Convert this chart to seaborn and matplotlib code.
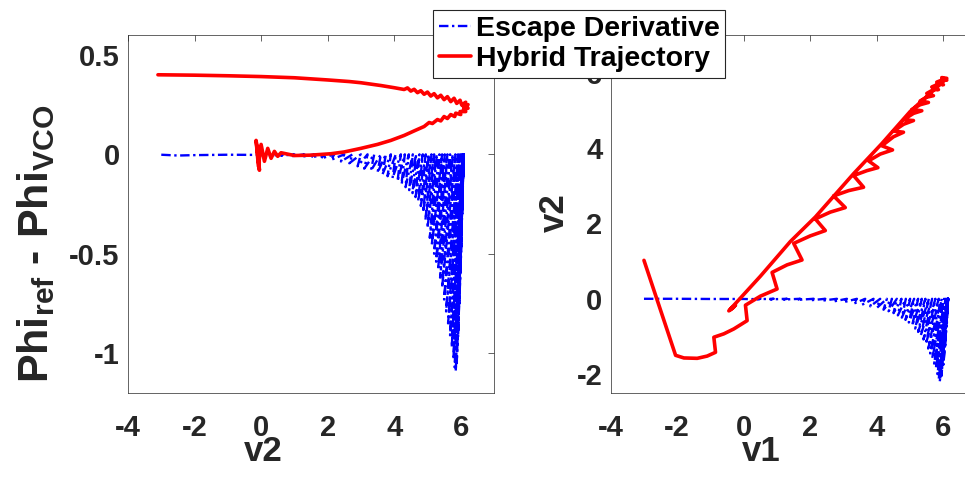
import matplotlib
matplotlib.use("Agg")
import matplotlib.pyplot as plt
import seaborn as sns
import pandas as pd
from matplotlib.lines import Line2D

# ---------------- data ----------------
series_names = ["Escape Derivative", "Hybrid Trajectory"]
x_ticks = [-4, -2, 0, 2, 4, 6]
left_y_ticks = [-1, -0.5, 0, 0.5]
left_y_ticklabels = ["-1", "-0.5", "0", "0.5"]
right_y_ticks = [-2, 0, 2, 4, 6]

# Left panel, Escape Derivative: flat start, then oscillation strokes (top at 0 -> bottom)
esc_left_flat_v2 = [-3.0, -2.5, -2.0, -1.0, 0.0, 0.4]
esc_left_flat_phi = [-0.002, -0.006, -0.004, -0.002, -0.003, -0.005]
esc_left_top_v2 = [0.7, 1.0, 1.3, 1.6, 1.9, 2.2, 2.5, 2.75, 3.0, 3.2,
                   3.4, 3.6, 3.75, 3.9, 4.05, 4.2, 4.32, 4.44, 4.56, 4.66,
                   4.76, 4.86, 4.95, 5.04, 5.12, 5.2, 5.28, 5.36, 5.44, 5.52,
                   5.6, 5.68, 5.76, 5.84, 5.92, 5.98, 6.03, 6.06, 6.08, 6.09,
                   6.09, 6.09, 6.09, 6.08, 6.09, 6.08]
esc_left_bot_v2 = [0.6, 0.9, 1.2, 1.5, 1.8, 2.1, 2.4, 2.65, 2.9, 3.1,
                   3.3, 3.5, 3.65, 3.8, 3.95, 4.1, 4.22, 4.34, 4.45, 4.55,
                   4.64, 4.72, 4.8, 4.87, 4.94, 5.0, 5.07, 5.13, 5.2, 5.26,
                   5.32, 5.38, 5.44, 5.5, 5.56, 5.62, 5.68, 5.73, 5.78, 5.82,
                   5.85, 5.88, 5.92, 5.96, 6.0, 6.04]
esc_left_bot_phi = [-0.007, -0.01, -0.013, -0.016, -0.021, -0.028, -0.036, -0.045, -0.06, -0.072,
                    -0.082, -0.092, -0.1, -0.11, -0.12, -0.135, -0.15, -0.165, -0.18, -0.195,
                    -0.215, -0.235, -0.26, -0.29, -0.33, -0.37, -0.42, -0.46, -0.5, -0.54,
                    -0.58, -0.62, -0.67, -0.73, -0.79, -0.85, -0.91, -0.97, -1.03, -1.07,
                    -1.09, -1.05, -0.92, -0.75, -0.55, -0.3]

# Left panel, Hybrid Trajectory
hyb_left_v2 = [-3.1, -2.0, -1.0, 0.0, 1.0, 2.0, 2.65, 3.0, 3.6, 4.0,
               4.3, 4.4, 4.5, 4.6, 4.7, 4.8, 4.9, 5.0, 5.1, 5.2,
               5.3, 5.4, 5.5, 5.6, 5.7, 5.8, 5.88, 5.98, 6.03, 6.15,
               6.08, 6.22, 6.1, 6.22, 6.08, 6.15, 5.98, 6.0, 5.85, 5.82,
               5.7, 5.6, 5.5, 5.4, 5.3, 5.15, 5.05, 4.9, 4.63, 4.3,
               3.9, 3.5, 3.0, 2.5, 2.1, 1.5, 1.0, 0.6, 0.5, 0.4,
               0.3, 0.2, 0.1, 0.0, -0.08, -0.15, -0.05, -0.1, 0.0]
hyb_left_phi = [0.400, 0.398, 0.395, 0.391, 0.385, 0.374, 0.366, 0.36, 0.346, 0.335,
                0.326, 0.334, 0.318, 0.327, 0.31, 0.32, 0.302, 0.313, 0.293, 0.305,
                0.284, 0.297, 0.275, 0.29, 0.265, 0.282, 0.256, 0.272, 0.248, 0.262,
                0.24, 0.25, 0.232, 0.232, 0.224, 0.215, 0.215, 0.2, 0.207, 0.19,
                0.2, 0.18, 0.19, 0.168, 0.175, 0.155, 0.16, 0.14, 0.12, 0.095,
                0.07, 0.05, 0.03, 0.012, 0.003, -0.004, -0.006, 0.008, -0.01, 0.015,
                -0.02, 0.03, -0.035, 0.05, -0.06, 0.07, -0.08, 0.04, 0.0]

# Right panel, Escape Derivative
esc_right_flat_v1 = [-3.0, -2.0, -1.0, 0.0, 0.2]
esc_right_flat_v2 = [0.0, 0.0, -0.005, -0.005, -0.01]
esc_right_top_v1 = [0.5, 0.9, 1.3, 1.7, 2.1, 2.45, 2.8, 3.1, 3.4, 3.65,
                    3.9, 4.1, 4.3, 4.45, 4.6, 4.74, 4.87, 5.0, 5.12, 5.24,
                    5.35, 5.46, 5.56, 5.66, 5.76, 5.86, 5.95, 6.02, 6.07, 6.11,
                    6.13, 6.14, 6.14, 6.14, 6.14, 6.13, 6.14]
esc_right_bot_v1 = [0.4, 0.8, 1.2, 1.6, 2.0, 2.35, 2.7, 3.0, 3.3, 3.55,
                    3.8, 4.0, 4.2, 4.35, 4.5, 4.63, 4.75, 4.86, 4.96, 5.06,
                    5.15, 5.24, 5.32, 5.4, 5.47, 5.54, 5.6, 5.66, 5.72, 5.77,
                    5.82, 5.86, 5.89, 5.94, 6.0, 6.05, 6.1]
esc_right_bot_v2 = [-0.01, -0.015, -0.02, -0.03, -0.04, -0.05, -0.07, -0.09, -0.13, -0.16,
                    -0.2, -0.24, -0.29, -0.33, -0.38, -0.44, -0.5, -0.56, -0.63, -0.71,
                    -0.79, -0.88, -0.97, -1.08, -1.2, -1.32, -1.45, -1.58, -1.72, -1.85,
                    -2.0, -2.12, -2.2, -2.05, -1.75, -1.3, -0.7]

# Right panel, Hybrid Trajectory
hyb_right_v1 = [-3.0, -2.05, -1.8, -1.4, -1.1, -0.85, -0.9, -0.6, -0.3, 0.1, 0.05, 0.5, 1.0,
                0.85, 1.3, 1.75, 1.5, 2.0, 2.45, 2.15, 2.6, 3.05, 2.7, 3.15, 3.6, 3.3, 3.7,
                4.03, 3.75, 4.1, 4.47, 4.15, 4.5, 4.8, 4.5, 4.8, 5.1, 4.8, 5.1, 5.35, 5.05,
                5.3, 5.55, 5.3, 5.5, 5.7, 5.5, 5.7, 5.85, 5.65, 5.85, 6.0, 5.8, 6.0, 6.1,
                5.95, 6.1, 5.0, 4.15, 3.3, 2.15, 1.4, 0.5, -0.4, -0.25, -0.45, -0.3, -0.42]
hyb_right_v2 = [1.02, -1.5, -1.57, -1.58, -1.52, -1.42, -1.02, -0.93, -0.8, -0.58, -0.17,
                0.07, 0.26, 0.70, 0.9, 1.03, 1.47, 1.67, 1.81, 2.12, 2.3, 2.42, 2.73, 2.87,
                2.96, 3.27, 3.4, 3.48, 3.66, 3.84, 3.95, 4.06, 4.3, 4.42, 4.45, 4.63, 4.73,
                4.75, 4.92, 4.99, 5.02, 5.15, 5.21, 5.25, 5.35, 5.39, 5.45, 5.55, 5.55,
                5.62, 5.7, 5.68, 5.75, 5.82, 5.8, 5.87, 5.85, 4.97, 4.12, 3.32, 2.17, 1.52,
                0.6, -0.27, -0.17, -0.32, -0.22, -0.3]


def escape_table(flat_x, flat_y, top_x, bot_x, bot_y):
    xs, ys = list(flat_x), list(flat_y)
    for t, b, y in zip(top_x, bot_x, bot_y):
        xs += [t, b]
        ys += [0.0, y]
    return pd.DataFrame({"x": xs, "y": ys})


esc_left = escape_table(esc_left_flat_v2, esc_left_flat_phi, esc_left_top_v2,
                        esc_left_bot_v2, esc_left_bot_phi)
esc_right = escape_table(esc_right_flat_v1, esc_right_flat_v2, esc_right_top_v1,
                         esc_right_bot_v1, esc_right_bot_v2)
hyb_left = pd.DataFrame({"x": hyb_left_v2, "y": hyb_left_phi})
hyb_right = pd.DataFrame({"x": hyb_right_v1, "y": hyb_right_v2})

# ---------------- styling ----------------
sns.set_theme(style="white")
plt.rcParams["font.family"] = ["Liberation Sans", "DejaVu Sans"]
plt.rcParams["font.weight"] = "bold"
plt.rcParams["axes.unicode_minus"] = False
plt.rcParams["mathtext.default"] = "regular"

BLUE = "#0000ff"
RED = "#ff0000"
DASHDOT = (0, (4, 1.5, 1, 1.5))
TXT = "#262626"
BLUE_LW = 1.7
RED_LW = 2.6

W, H = 965, 478
fig = plt.figure(figsize=(W / 100, H / 100), dpi=100)
ax1 = fig.add_axes([128 / W, 85 / H, 366 / W, 358 / H])
ax2 = fig.add_axes([610.7 / W, 85 / H, 366 / W, 358 / H])

for ax, esc, hyb in [(ax1, esc_left, hyb_left), (ax2, esc_right, hyb_right)]:
    sns.lineplot(data=esc, x="x", y="y", sort=False, estimator=None, ax=ax,
                 color=BLUE, linewidth=BLUE_LW)
    ax.lines[-1].set_linestyle(DASHDOT)
    sns.lineplot(data=hyb, x="x", y="y", sort=False, estimator=None, ax=ax,
                 color=RED, linewidth=RED_LW)
    ax.set_xlim(-4, 7)
    ax.set_xticks(x_ticks)
    ax.set_xticklabels([str(t) for t in x_ticks])
    ax.tick_params(direction="in", length=4, width=0.5, color=TXT, labelcolor=TXT,
                   labelsize=21, top=True, right=True)
    ax.tick_params(axis="x", pad=15)
    ax.tick_params(axis="y", pad=6)
    for s in ax.spines.values():
        s.set_visible(True)
        s.set_color(TXT)
        s.set_linewidth(0.5)

ax1.set_ylim(-1.2, 0.6)
ax1.set_yticks(left_y_ticks)
ax1.set_yticklabels(left_y_ticklabels)
ax2.set_ylim(-2.5, 7)
ax2.set_yticks(right_y_ticks)
ax2.set_yticklabels([str(t) for t in right_y_ticks])
for ax in (ax1, ax2):
    for lab in ax.get_xticklabels() + ax.get_yticklabels():
        lab.set_fontweight("bold")

ax1.set_xlabel("v2", fontsize=25, fontweight="bold", color=TXT)
ax2.set_xlabel("v1", fontsize=25, fontweight="bold", color=TXT)
ax1.set_ylabel("Phi$_{ref}$ - Phi$_{VCO}$", fontsize=31, fontweight="bold", color=TXT)
ax2.set_ylabel("v2", fontsize=25, fontweight="bold", color=TXT)
ax1.xaxis.set_label_coords((263 - 128) / 366, -0.118)
ax2.xaxis.set_label_coords((761 - 610.7) / 366, -0.118)
ax1.yaxis.set_label_coords((57 - 128) / 366, (393 - 244) / 358)
ax2.yaxis.set_label_coords((571 - 610.7) / 366, (393 - 213) / 358)

handles = [Line2D([], [], color=BLUE, linewidth=BLUE_LW, linestyle=DASHDOT),
           Line2D([], [], color=RED, linewidth=RED_LW)]
leg = fig.legend(handles, series_names, loc="upper left",
                 bbox_to_anchor=(433 / W, 1 - 10 / H), frameon=True, fancybox=False,
                 edgecolor=TXT, framealpha=1, borderpad=0.2, handlelength=1.15,
                 handletextpad=0.15, labelspacing=0.15, borderaxespad=0,
                 prop={"family": "Liberation Sans", "weight": "bold", "size": 20.5})
leg.get_frame().set_linewidth(0.8)
for t in leg.get_texts():
    t.set_color("black")

fig.savefig("out.png", dpi=100)
